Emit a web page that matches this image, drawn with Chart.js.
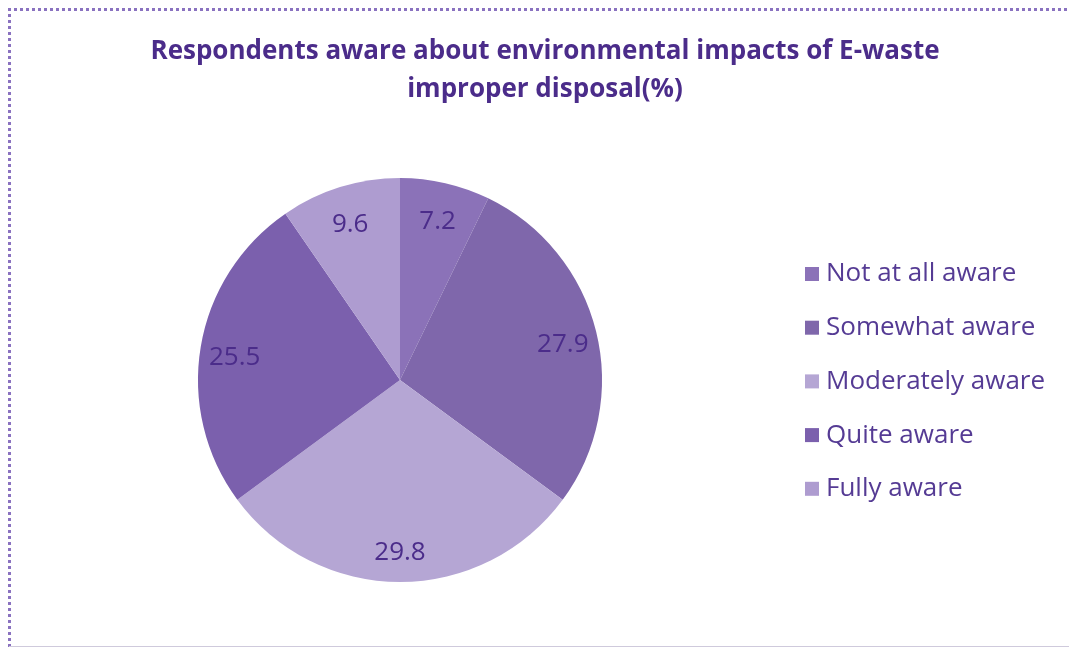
<html>
<head>
<script src="https://cdn.jsdelivr.net/npm/chart.js@4.4.0/dist/chart.umd.min.js"></script>
<style>
	body { margin: 0; background: #ffffff; }
	#wrap { position: relative; width: 1069px; height: 648px; }
</style>
</head>
<body>
<div id="wrap"><canvas id="myChart" width="1069" height="648"></canvas></div>
<script>
	var titleLines = ['Respondents aware about environmental impacts of E-waste', 'improper disposal(%)'];
	var categories = ['Not at all aware', 'Somewhat aware', 'Moderately aware', 'Quite aware', 'Fully aware'];
	var percents = [7.2, 27.9, 29.8, 25.5, 9.6];
	var sliceColors = ['#8b72b8', '#7f67ab', '#b5a6d4', '#7b60ad', '#ae9cd0'];

	var textColor = '#4b2c8a';
	var fontName = '"Open Sans", Lato, sans-serif';

	// frame, title, value labels and legend are painted by hand
	var decorations = {
		id: 'decorations',
		beforeDraw: function(chart) {
			var ctx = chart.ctx;
			ctx.save();
			ctx.strokeStyle = '#8a72c0';
			ctx.lineWidth = 3;
			ctx.setLineDash([3, 3]);
			ctx.beginPath();
			ctx.moveTo(9.5, 647);
			ctx.lineTo(9.5, 9.5);
			ctx.lineTo(1069, 9.5);
			ctx.stroke();
			ctx.setLineDash([]);
			ctx.lineWidth = 1;
			ctx.strokeStyle = '#cfcadc';
			ctx.beginPath();
			ctx.moveTo(9, 646.5);
			ctx.lineTo(1069, 646.5);
			ctx.stroke();
			ctx.restore();
		},
		afterDraw: function(chart) {
			var ctx = chart.ctx;
			ctx.save();
			ctx.fillStyle = textColor;
			ctx.textAlign = 'center';
			ctx.textBaseline = 'middle';
			ctx.font = 'bold 26px ' + fontName;
			ctx.fillText(titleLines[0], 545, 52);
			ctx.fillText(titleLines[1], 545, 90);

			// value labels inside the slices
			var meta = chart.getDatasetMeta(0);
			ctx.font = '26px ' + fontName;
			meta.data.forEach(function(arc, i) {
				var p = arc.getProps(['x', 'y', 'startAngle', 'endAngle', 'outerRadius'], true);
				var mid = (p.startAngle + p.endAngle) / 2;
				var d = p.outerRadius * 0.83;
				ctx.fillText(percents[i].toFixed(1), p.x + Math.cos(mid) * d, p.y + Math.sin(mid) * d + 5);
			});

			// legend
			ctx.textAlign = 'left';
			ctx.font = '26px ' + fontName;
			for (var i = 0; i < categories.length; i++) {
				var y = 274 + i * 53.7;
				ctx.fillStyle = sliceColors[i];
				ctx.fillRect(805, y - 7, 14, 14);
				ctx.fillStyle = '#553b94';
				ctx.fillText(categories[i], 826, y);
			}
			ctx.restore();
		}
	};

	var ctx = document.getElementById('myChart').getContext('2d');
	var chart = new Chart(ctx, {
		type: 'pie',
		data: {
			labels: categories,
			datasets: [{
				data: percents,
				backgroundColor: sliceColors,
				borderWidth: 0
			}]
		},
		options: {
			responsive: false,
			animation: false,
			layout: { padding: { left: 198, right: 467, top: 178, bottom: 66 } },
			plugins: {
				legend: { display: false },
				title: { display: false },
				tooltip: { enabled: false }
			}
		},
		plugins: [decorations]
	});
</script>
</body>
</html>
